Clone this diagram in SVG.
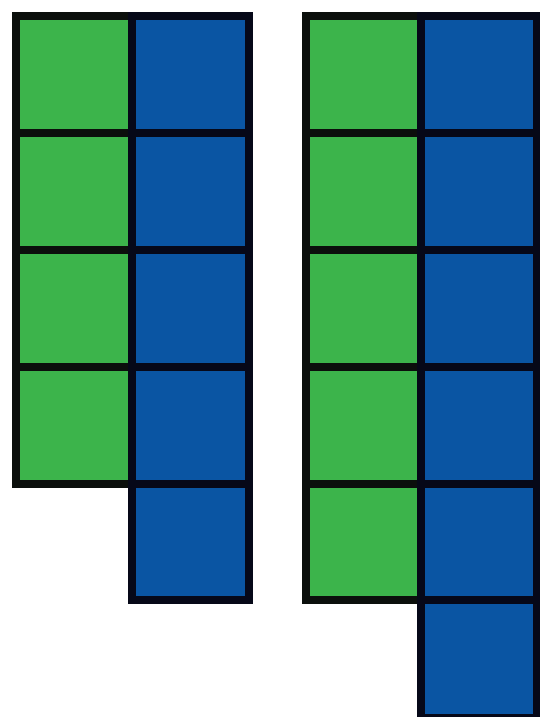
<svg xmlns="http://www.w3.org/2000/svg" width="540" height="717" viewBox="0 0 540 717">
<style>
.g{fill:#3cb44b;stroke:#0b0f0c;stroke-width:8}
.b{fill:#0a55a3;stroke:#060818;stroke-width:8}
</style>
<rect width="540" height="717" fill="#ffffff"/>
<g id="left">
<rect class="g" x="16" y="16" width="116" height="117"/>
<rect class="g" x="16" y="133" width="116" height="117"/>
<rect class="g" x="16" y="250" width="116" height="117"/>
<rect class="g" x="16" y="367" width="116" height="117"/>
<rect class="b" x="132" y="16" width="117" height="117"/>
<rect class="b" x="132" y="133" width="117" height="117"/>
<rect class="b" x="132" y="250" width="117" height="117"/>
<rect class="b" x="132" y="367" width="117" height="117"/>
<rect class="b" x="132" y="484" width="117" height="116"/>
</g>
<g id="right">
<rect class="g" x="306" y="16" width="115" height="117"/>
<rect class="g" x="306" y="133" width="115" height="117"/>
<rect class="g" x="306" y="250" width="115" height="117"/>
<rect class="g" x="306" y="367" width="115" height="117"/>
<rect class="g" x="306" y="484" width="115" height="116"/>
<rect class="b" x="421" y="16" width="116" height="117"/>
<rect class="b" x="421" y="133" width="116" height="117"/>
<rect class="b" x="421" y="250" width="116" height="117"/>
<rect class="b" x="421" y="367" width="116" height="117"/>
<rect class="b" x="421" y="484" width="116" height="116"/>
<rect class="b" x="421" y="600" width="116" height="118"/>
</g>
<g id="connectors"/>
</svg>
